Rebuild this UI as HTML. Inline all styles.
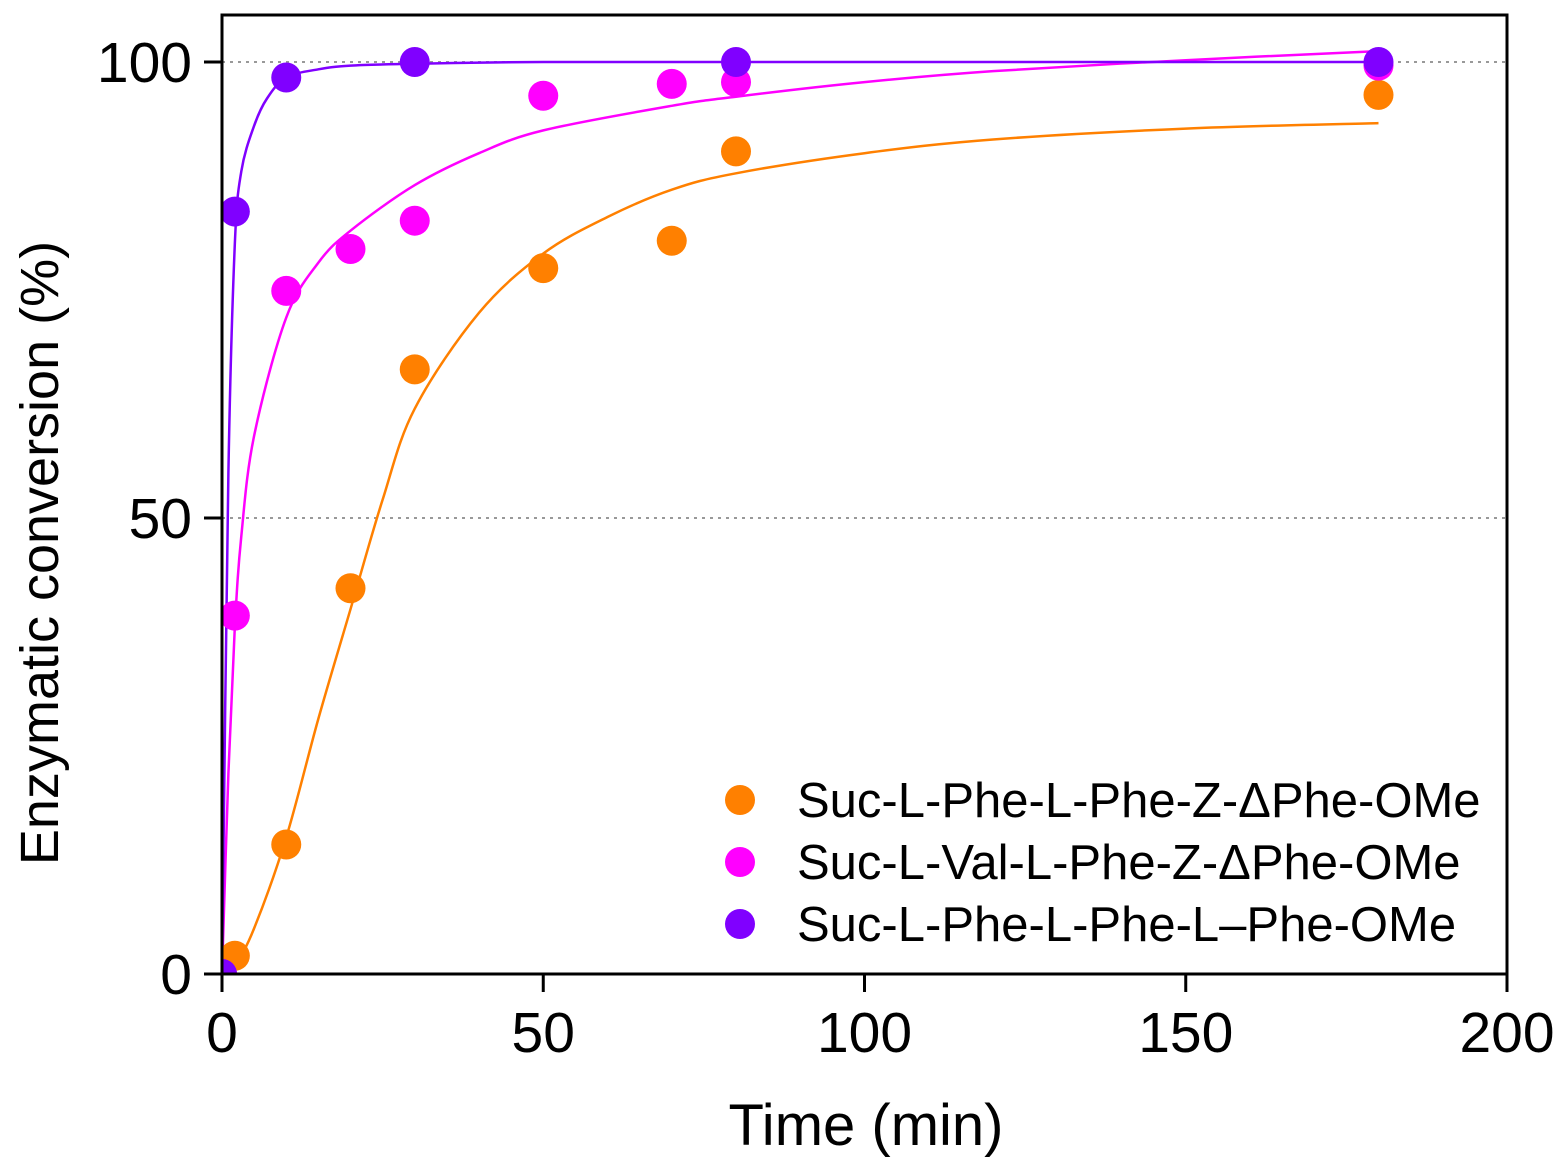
<!DOCTYPE html>
<html><head><meta charset="utf-8"><style>
body{margin:0;background:#fff}
svg{display:block;font-family:"Liberation Sans",Arial,sans-serif}
</style></head><body>
<svg id="chart" width="1564" height="1168" viewBox="0 0 1564 1168" xmlns="http://www.w3.org/2000/svg">
<defs><clipPath id="clip"><rect x="222" y="15" width="1285" height="959"/></clipPath></defs>
<g id="grid"></g>
<g id="curves" clip-path="url(#clip)"></g>
<g id="points" clip-path="url(#clip)"></g>
<rect x="222" y="15" width="1285" height="959" fill="none" stroke="#000" stroke-width="3"/>
<g id="axes"></g>
<text x="866" y="1145" font-size="58" text-anchor="middle">Time (min)</text>
<text transform="translate(58,553) rotate(-90)" font-size="54" text-anchor="middle">Enzymatic conversion (%)</text>
<g id="legend"></g>
</svg>
<script>
const xTicks=[0,50,100,150,200];
const yTicks=[0,50,100];
const seriesNames=["Suc-L-Phe-L-Phe-Z-\u0394Phe-OMe","Suc-L-Val-L-Phe-Z-\u0394Phe-OMe","Suc-L-Phe-L-Phe-L\u2013Phe-OMe"];
const seriesColors=["#ff8000","#ff00ff","#8000ff"];
const orangeT=[0,2,10,20,30,50,70,80,180];
const orangeV=[0,2,14.2,42.3,66.3,77.4,80.4,90.2,96.4];
const magentaT=[0,2,10,20,30,50,70,80,180];
const magentaV=[0,39.3,74.9,79.5,82.6,96.3,97.6,97.8,99.6];
const purpleT=[0,2,10,30,80,180];
const purpleV=[0,83.6,98.3,100,100,100];
const orangeFitT=[0,2,5,10,15,20,25,30,40,50,60,70,80,100,120,150,180];
const orangeFitV=[0,1,5,15,28,40,52,62,72.5,79,83,86,87.8,90,91.5,92.7,93.3];
const magentaFitT=[0,1,2,3,5,10,15,20,30,40,50,70,80,100,120,150,180];
const magentaFitV=[0,22,38,48,59,72,78,81.5,86.5,90,92.5,95.2,96.2,97.8,99,100.2,101.2];
const purpleFitT=[0,1,2,3,5,7,10,15,20,30,50,100,180];
const purpleFitV=[0,55,80,88,93,96,98.3,99.2,99.6,99.8,100,100,100];

const NS="http://www.w3.org/2000/svg";
const X=v=>222+v*(1507-222)/200;
const Y=v=>974-v*(974-62)/100;
function mk(tag,attrs,parent){const e=document.createElementNS(NS,tag);for(const k in attrs)e.setAttribute(k,attrs[k]);parent.appendChild(e);return e;}
function smooth(P){let d='M'+P[0][0].toFixed(1)+','+P[0][1].toFixed(1);
  for(let i=0;i<P.length-1;i++){const p0=P[i-1]||P[i],p1=P[i],p2=P[i+1],p3=P[i+2]||p2;
    const c1=[p1[0]+(p2[0]-p0[0])/6,p1[1]+(p2[1]-p0[1])/6],c2=[p2[0]-(p3[0]-p1[0])/6,p2[1]-(p3[1]-p1[1])/6];
    d+='C'+c1[0].toFixed(1)+','+c1[1].toFixed(1)+' '+c2[0].toFixed(1)+','+c2[1].toFixed(1)+' '+p2[0].toFixed(1)+','+p2[1].toFixed(1);}
  return d;}
const grid=document.getElementById('grid'),axes=document.getElementById('axes');
yTicks.forEach(v=>{
  if(v>0){const g=mk('line',{x1:222,x2:1507,y1:Y(v),y2:Y(v),stroke:'#999','stroke-width':2,'stroke-dasharray':'3,5'},grid);
  
  }
  const t=mk('line',{x1:204,x2:222,y1:Y(v),y2:Y(v),stroke:'#000','stroke-width':3},axes);
  
  
  const l=mk('text',{x:192,y:Y(v)+20,'font-size':57,'text-anchor':'end'},axes);l.textContent=v;
  
  
});
xTicks.forEach(v=>{
  const t=mk('line',{x1:X(v),x2:X(v),y1:974,y2:992,stroke:'#000','stroke-width':3},axes);
  
  
  const l=mk('text',{x:X(v),y:1052,'font-size':57,'text-anchor':'middle'},axes);l.textContent=v;
  
  
});
const curves=document.getElementById('curves'),pts=document.getElementById('points');
const fits=[[orangeFitT,orangeFitV],[magentaFitT,magentaFitV],[purpleFitT,purpleFitV]];
const data=[[orangeT,orangeV],[magentaT,magentaV],[purpleT,purpleV]];
fits.forEach((f,i)=>{
  const P=f[0].map((t,j)=>[X(t),Y(f[1][j])]);
  const p=mk('path',{d:smooth(P),fill:'none',stroke:seriesColors[i],'stroke-width':2.5,'stroke-linejoin':'round'},curves);
  
  
});
data.forEach((s,i)=>{
  s[0].forEach((t,j)=>{
    const c=mk('circle',{cx:X(t),cy:Y(s[1][j]),r:15,fill:seriesColors[i]},pts);
    
    
  });
});
const leg=document.getElementById('legend');
seriesNames.forEach((n,i)=>{
  const y=800+i*62;
  const c=mk('circle',{cx:740,cy:y,r:15,fill:seriesColors[i]},leg);
  
  
  const t=mk('text',{x:797,y:y+17,'font-size':49},leg);t.textContent=n;
  
  
});
</script>
</body></html>
